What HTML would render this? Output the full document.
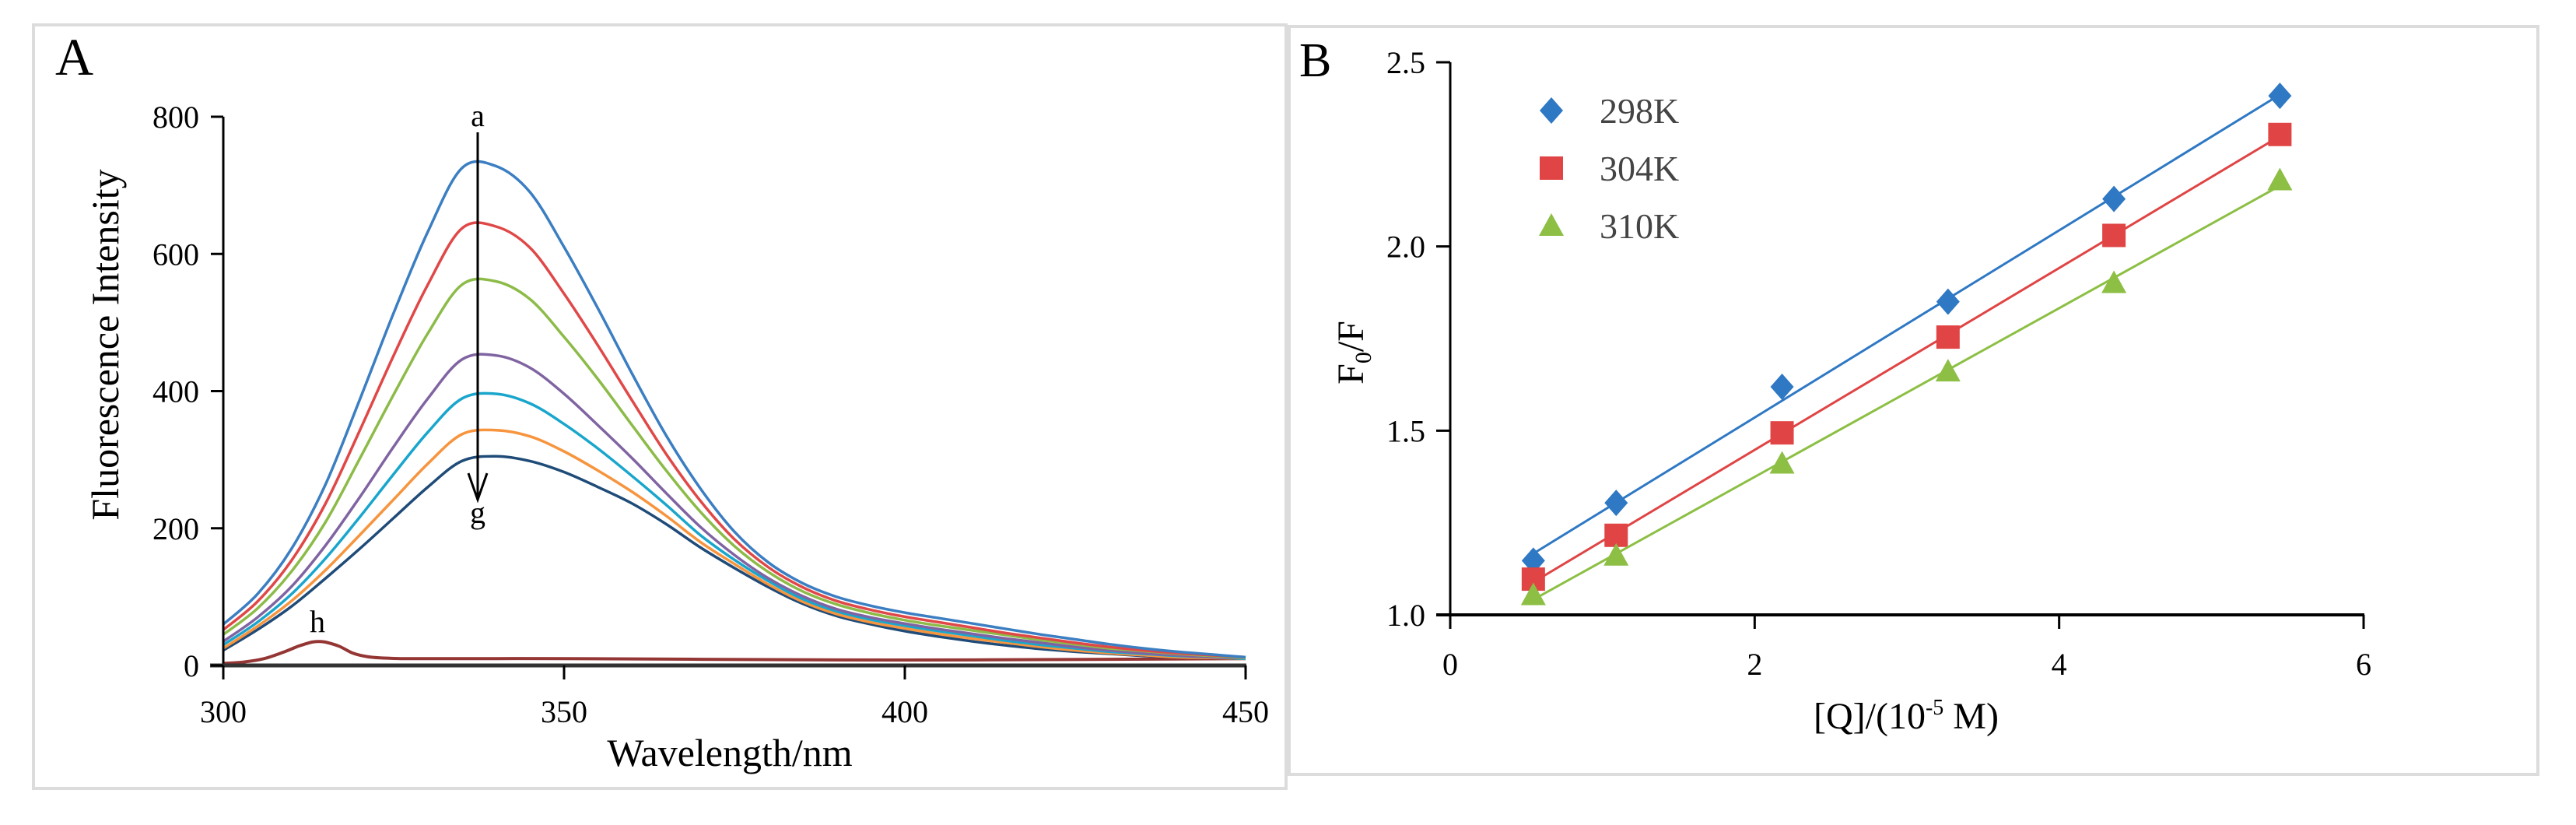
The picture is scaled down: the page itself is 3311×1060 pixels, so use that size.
<!DOCTYPE html>
<html><head><meta charset="utf-8"><style>
html,body{margin:0;padding:0;background:#fff;}
svg{display:block;font-family:"Liberation Serif",serif;}
</style></head><body>
<svg id="fig" width="3311" height="1060" viewBox="0 0 3311 1060" xmlns="http://www.w3.org/2000/svg">
<rect x="43" y="32" width="1610" height="981" fill="#fff" stroke="#dcdcdc" stroke-width="4"/>
<rect x="1657" y="34" width="1605" height="961" fill="#fff" stroke="#dcdcdc" stroke-width="4"/>
<text x="71" y="96" font-size="68">A</text>
<text x="1670" y="98" font-size="62">B</text>
<g id="pa"></g>
<g id="pb"></g>
</svg>
<script>
// Panel A data
const wavelengths = [300,305,310,315,320,325,330,335,340,345,350,355,360,365,370,375,380,385,390,395,400,405,410,415,420,425,430,435,440,445,450];
const curveA = [60,104,170,264,387,514,632,725,728,690,610,520,425,335,258,195,150,120,100,87,77,69,61,53,45,38,31,25,20,16,12];
const curveB = [52,93,153,236,342,452,555,637,640,609,542,466,386,308,240,184,143,114,94,81,71,63,55,47,40,33,27,22,18,15,12];
const curveC = [45,83,137,209,301,395,484,555,560,534,479,417,350,284,224,174,136,108,89,76,66,58,51,44,37,31,25,21,17,14,11];
const curveD = [35,70,115,175,245,319,389,446,452,434,396,350,302,251,202,161,127,101,82,70,61,53,46,39,33,27,22,18,15,12,11];
const curveE = [30,63,104,156,216,279,340,389,396,382,352,316,276,234,190,154,123,97,79,67,58,50,43,36,30,25,20,17,14,12,10];
const curveF = [25,57,94,139,190,242,294,337,343,334,312,284,253,218,180,148,118,93,75,63,54,46,39,33,27,22,18,15,12,11,10];
const curveG = [22,52,86,127,170,215,260,298,305,298,282,260,236,206,172,142,114,90,72,60,50,42,35,29,24,20,17,14,12,11,10];
const hWavelengths = [300,303,306,309,311,313,314,315,317,319,321,323,326,330,340,350,370,400,430,450];
const curveH = [3,5,10,20,28,34,35,34,28,18,13,11,10,10,10,10,9,8,9,10];
const xTicksA = [300,350,400,450];
const yTicksA = [0,200,400,600,800];
// Panel B data
const concentrations = [0.546,1.09,2.18,3.27,4.36,5.45];
const ratio298 = [1.147,1.304,1.619,1.850,2.129,2.409];
const ratio304 = [1.097,1.216,1.494,1.754,2.030,2.304];
const ratio310 = [1.054,1.161,1.411,1.661,1.901,2.180];
const xTicksB = [0,2,4,6];
const yTicksB = ["1.0","1.5","2.0","2.5"];

const NS="http://www.w3.org/2000/svg";
function mk(parent,tag,attrs,text){const e=document.createElementNS(NS,tag);for(const k in attrs)e.setAttribute(k,attrs[k]);if(text!==undefined)e.textContent=text;parent.appendChild(e);return e;}

// ---- Panel A ----
const pa=document.getElementById('pa');
const ax=v=>287+(v-300)/150*1314;
const ay=v=>855-v/800*705;
const seriesA=[[curveA,'#3b7ec2','curve-a'],[curveB,'#e04848','curve-b'],[curveC,'#8cbb48','curve-c'],[curveD,'#8064a2','curve-d'],[curveE,'#1aa6cc','curve-e'],[curveF,'#f7943e','curve-f'],[curveG,'#1f4b78','curve-g']];
function smooth(pts){let d='M'+pts[0][0]+','+pts[0][1];for(let i=0;i<pts.length-1;i++){const p0=pts[i-1]||pts[i],p1=pts[i],p2=pts[i+1],p3=pts[i+2]||p2;const c1x=p1[0]+(p2[0]-p0[0])/6,c1y=p1[1]+(p2[1]-p0[1])/6,c2x=p2[0]-(p3[0]-p1[0])/6,c2y=p2[1]-(p3[1]-p1[1])/6;d+=' C'+c1x.toFixed(1)+','+c1y.toFixed(1)+' '+c2x.toFixed(1)+','+c2y.toFixed(1)+' '+p2[0].toFixed(1)+','+p2[1].toFixed(1);}return d;}
const hp=mk(pa,'path',{d:smooth(hWavelengths.map((w,i)=>[ax(w),ay(curveH[i])])),fill:'none',stroke:'#943634','stroke-width':4});


for(let s=seriesA.length-1;s>=0;s--){const [vals,col,nm]=seriesA[s];
 const p=mk(pa,'path',{d:smooth(wavelengths.map((w,i)=>[ax(w),ay(vals[i])])),fill:'none',stroke:col,'stroke-width':3.5});
 
 }
const yAxA=mk(pa,'line',{x1:287,y1:ay(800),x2:287,y2:ay(0)+18,stroke:'#000','stroke-width':3});


const xAxA=mk(pa,'line',{x1:270,y1:ay(0),x2:ax(450)+1,y2:ay(0),stroke:'#333','stroke-width':5});


yTicksA.forEach(v=>{const t=mk(pa,'line',{x1:271,y1:ay(v),x2:287,y2:ay(v),stroke:'#000','stroke-width':3});
 
 
 const l=mk(pa,'text',{x:256,y:ay(v)+14,'font-size':40,'text-anchor':'end'},String(v));
 
 });
xTicksA.forEach(v=>{const t=mk(pa,'line',{x1:ax(v),y1:ay(0),x2:ax(v),y2:ay(0)+18,stroke:'#000','stroke-width':3});
 
 
 const l=mk(pa,'text',{x:ax(v),y:928,'font-size':40,'text-anchor':'middle'},String(v));
 
 });
const xtA=mk(pa,'text',{x:938,y:984,'font-size':50,'text-anchor':'middle'},'Wavelength/nm');


const ytA=mk(pa,'text',{x:0,y:0,'font-size':50,'text-anchor':'middle',transform:'translate(152,443) rotate(-90)'},'Fluorescence Intensity');


const arr=mk(pa,'line',{x1:614,y1:170,x2:614,y2:640,stroke:'#000','stroke-width':3});


const ah=mk(pa,'path',{d:'M602,608 L614,642 L626,608',fill:'none',stroke:'#000','stroke-width':3});


[['a',614,162],['g',614,672],['h',408,812]].forEach(([t,x,y])=>{const l=mk(pa,'text',{x:x,y:y,'font-size':40,'text-anchor':'middle'},t);
 
 });

// ---- Panel B ----
const pb=document.getElementById('pb');
const bx=v=>1864+v/6*1174;
const by=v=>790-(v-1)/1.5*710;
const seriesB=[[ratio298,'#2e78c4','diamond','298K',142],[ratio304,'#e04444','square','304K',216],[ratio310,'#8cbf44','triangle','310K',290]];
function marker(g,type,x,y,col){let e;
 if(type==='diamond')e=mk(g,'path',{d:`M${x},${y-17} L${x+15},${y} L${x},${y+17} L${x-15},${y} Z`,fill:col});
 else if(type==='square')e=mk(g,'rect',{x:x-15,y:y-15,width:30,height:30,fill:col});
 else e=mk(g,'path',{d:`M${x},${y-16} L${x+16},${y+13} L${x-16},${y+13} Z`,fill:col});
 return e;}
seriesB.forEach(([vals,col,type,lab,ly])=>{
 const n=concentrations.length;let sx=0,sy=0,sxx=0,sxy=0;
 concentrations.forEach((c,i)=>{sx+=c;sy+=vals[i];sxx+=c*c;sxy+=c*vals[i];});
 const m=(n*sxy-sx*sy)/(n*sxx-sx*sx),b0=(sy-m*sx)/n;
 const x0=concentrations[0],x1=concentrations[n-1];
 const fl=mk(pb,'line',{x1:bx(x0),y1:by(m*x0+b0),x2:bx(x1),y2:by(m*x1+b0),stroke:col,'stroke-width':3});
 
 
 concentrations.forEach((c,i)=>{const mm=marker(pb,type,bx(c),by(vals[i]),col);
  
  });
 const lm=marker(pb,type,1994,ly,col);
 
 
 const lt=mk(pb,'text',{x:2056,y:ly+16,'font-size':46,fill:'#444'},lab);
 
 
});
const yAxB=mk(pb,'line',{x1:1864,y1:by(2.5),x2:1864,y2:by(1)+18,stroke:'#000','stroke-width':3});


const xAxB=mk(pb,'line',{x1:1846,y1:by(1),x2:bx(6)+1,y2:by(1),stroke:'#000','stroke-width':4});


yTicksB.forEach(v=>{const y=by(parseFloat(v));const t=mk(pb,'line',{x1:1846,y1:y,x2:1864,y2:y,stroke:'#000','stroke-width':3});
 
 
 const l=mk(pb,'text',{x:1832,y:y+14,'font-size':40,'text-anchor':'end'},v);
 
 });
xTicksB.forEach(v=>{const t=mk(pb,'line',{x1:bx(v),y1:by(1),x2:bx(v),y2:by(1)+18,stroke:'#000','stroke-width':3});
 
 
 const l=mk(pb,'text',{x:bx(v),y:867,'font-size':40,'text-anchor':'middle'},String(v));
 
 });
const xtB=mk(pb,'text',{x:2450,y:936,'font-size':48,'text-anchor':'middle'});


xtB.innerHTML='[Q]/(10<tspan font-size="28" dy="-18">-5</tspan><tspan dy="18"> M)</tspan>';
const ytB=mk(pb,'text',{x:0,y:0,'font-size':48,'text-anchor':'middle',transform:'translate(1752,453) rotate(-90)'});


ytB.innerHTML='F<tspan font-size="30" dy="10">0</tspan><tspan dy="-10">/F</tspan>';
</script>
</body></html>
